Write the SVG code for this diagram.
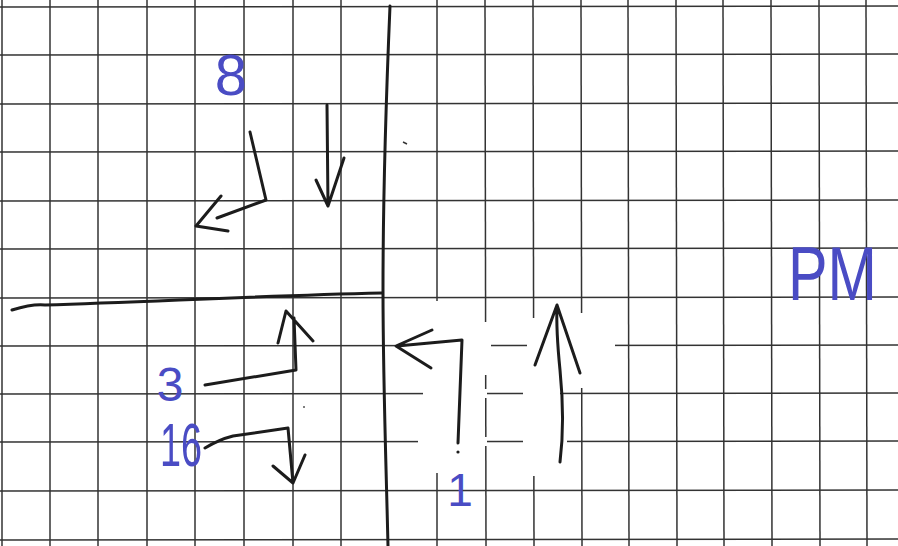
<svg xmlns="http://www.w3.org/2000/svg" width="898" height="546" viewBox="0 0 898 546">
  <style>
    .grid line { stroke: #333333; stroke-width: 1.5; }
    .ink { fill: none; stroke: #1c1c1c; stroke-width: 3; stroke-linecap: round; stroke-linejoin: round; }
    .lbl { fill: #4a4cc4; font-family: "Liberation Sans", Arial, sans-serif; }
    .wipe { fill: #ffffff; }
  </style>
  <rect width="898" height="546" fill="#ffffff"/>
  <g id="grid" class="grid">
    <line x1="2" y1="0" x2="2" y2="546"/>
    <line x1="50" y1="0" x2="50" y2="546"/>
    <line x1="98" y1="0" x2="98" y2="546"/>
    <line x1="147" y1="0" x2="147" y2="546"/>
    <line x1="195" y1="0" x2="195" y2="546"/>
    <line x1="244" y1="0" x2="244" y2="546"/>
    <line x1="293" y1="0" x2="293" y2="546"/>
    <line x1="341" y1="0" x2="341" y2="546"/>
    <line x1="437" y1="0" x2="437" y2="546"/>
    <line x1="485" y1="0" x2="486" y2="546"/>
    <line x1="533" y1="0" x2="534" y2="546"/>
    <line x1="581" y1="0" x2="582" y2="546"/>
    <line x1="628" y1="0" x2="629" y2="546"/>
    <line x1="676" y1="0" x2="677" y2="546"/>
    <line x1="723" y1="0" x2="724" y2="546"/>
    <line x1="771" y1="0" x2="772" y2="546"/>
    <line x1="819" y1="0" x2="820" y2="546"/>
    <line x1="866" y1="0" x2="867" y2="546"/>
    <line x1="0" y1="7" x2="898" y2="6"/>
    <line x1="0" y1="55" x2="898" y2="54"/>
    <line x1="0" y1="104" x2="898" y2="103"/>
    <line x1="0" y1="152" x2="898" y2="151"/>
    <line x1="0" y1="201" x2="898" y2="200"/>
    <line x1="0" y1="249" x2="898" y2="248"/>
    <line x1="0" y1="298" x2="898" y2="297"/>
    <line x1="0" y1="346" x2="898" y2="345"/>
    <line x1="0" y1="394" x2="898" y2="393"/>
    <line x1="0" y1="442" x2="898" y2="441"/>
    <line x1="0" y1="491" x2="898" y2="490"/>
    <line x1="0" y1="540" x2="898" y2="539"/>
  </g>
  <g id="whiteout">
    <rect class="wipe" x="433" y="301" width="9" height="172"/>
    <rect class="wipe" x="482" y="322" width="9" height="53"/>
    <rect class="wipe" x="530" y="318" width="9" height="158"/>
    <rect class="wipe" x="577" y="313" width="9" height="75"/>
    <rect class="wipe" x="395" y="341" width="92" height="9"/>
    <rect class="wipe" x="527" y="341" width="88" height="9"/>
    <rect class="wipe" x="423" y="389" width="64" height="9"/>
    <rect class="wipe" x="523" y="389" width="37" height="9"/>
    <rect class="wipe" x="418" y="437" width="69" height="9"/>
    <rect class="wipe" x="523" y="437" width="44" height="9"/>
  </g>
  <g id="roads">
    <path class="ink" d="M390,6 C386,100 383,200 383,290 C383,380 386,460 388,546"/>
    <path class="ink" d="M12,310 C25,306 35,304 45,305 C150,302 250,296 382,293"/>
  </g>
  <g id="connectors">
    <path id="a-8-left" class="ink" d="M250,132 L266,200 L217,218 M221,196 L196,226 L228,231"/>
    <path id="a-down" class="ink" d="M327,105 L328,206 M316,180 L328,206 L344,158"/>
    <path id="a-3-up" class="ink" d="M205,385 L296,370 L294,318 M278,343 L286,311 L313,341"/>
    <path id="a-16-down" class="ink" d="M205,448 C215,442 225,438 233,436 L288,428 L293,483 M273,466 L293,483 L305,455"/>
    <path id="a-1-left" class="ink" d="M458,443 L462,340 L397,346 M432,330 L396,346 L431,368"/>
    <path id="a-up" class="ink" d="M560,462 C564,430 563,400 560,370 C558,350 556,330 557,306 M535,365 L557,305 L580,373"/>
    <circle cx="458" cy="452" r="1.6" fill="#1c1c1c"/>
    <circle cx="304" cy="407" r="1" fill="#555"/>
    <path d="M403,142 L407,144" stroke="#333" stroke-width="1.5" fill="none"/>
  </g>
  <g id="labels">
    <text id="t8" class="lbl" x="231" y="95" font-size="58" text-anchor="middle">8</text>
    <text id="t3" class="lbl" x="170" y="401" font-size="48" text-anchor="middle">3</text>
    <text id="t16" class="lbl" x="160" y="466" font-size="62" textLength="42" lengthAdjust="spacingAndGlyphs">16</text>
    <text id="t1" class="lbl" x="460" y="506" font-size="46" text-anchor="middle">1</text>
    <text id="tPM" class="lbl" transform="translate(788,300) scale(0.78,1)" x="0" y="0" font-size="76">PM</text>
  </g>
</svg>
